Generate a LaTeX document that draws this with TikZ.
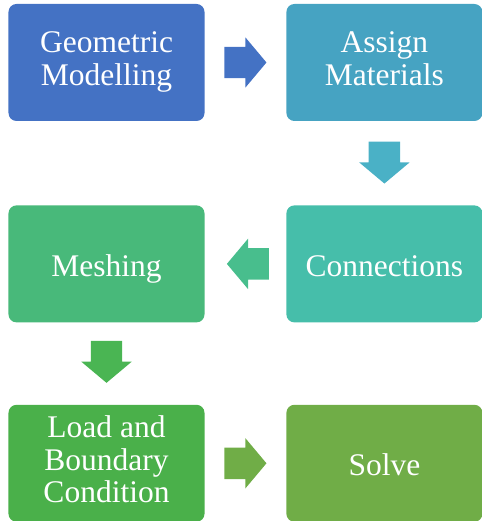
\documentclass[tikz,border=0pt]{standalone}
\usepackage{fontspec}
\setmainfont{Liberation Serif}
\usetikzlibrary{shapes.arrows, calc, positioning}
\definecolor{fsBlue}{HTML}{4472C4}
\definecolor{fsSky}{HTML}{46A3C2}
\definecolor{fsSkyArrow}{HTML}{4AB1C6}
\definecolor{fsTeal}{HTML}{46BEAA}
\definecolor{fsTealArrow}{HTML}{48BE8D}
\definecolor{fsMint}{HTML}{48B97A}
\definecolor{fsMintArrow}{HTML}{4AB553}
\definecolor{fsGreen}{HTML}{4AB04A}
\definecolor{fsOlive}{HTML}{70AD47}
\tikzset{
  % process step
  stepbox/.style={
    rectangle,
    rounded corners=8bp,
    minimum width=196bp,
    minimum height=117bp,
    text=white,
    align=center,
    font=\fontsize{31.5bp}{32.5bp}\selectfont,
    execute at begin node={\rule{0pt}{33bp}},
    execute at end node={\rule[-8bp]{0pt}{8bp}}
  },
  % block arrow between steps
  flowarrow/.style={
    single arrow,
    draw=none,
    anchor=tail,
    inner xsep=0pt,
    inner ysep=15.5bp,
    minimum height=42bp,
    single arrow head extend=9.5bp,
    single arrow tip angle=100
  }
}
\begin{document}
\begin{tikzpicture}[x=1bp, y=1bp]
\useasboundingbox (0,0) rectangle (482,521);

%% === Steps ===
\node[stepbox, fill=fsBlue] (geom) at (106.5,458.5) {Geometric\\Modelling};
\node[stepbox, fill=fsSky, right=81.5bp of geom] (assign) {Assign\\Materials};
\node[stepbox, fill=fsTeal, below=84bp of assign] (conn) {Connections};
\node[stepbox, fill=fsMint, left=81.5bp of conn] (mesh) {Meshing};
\node[stepbox, fill=fsGreen, below=82bp of mesh] (load) {Load and\\Boundary\\Condition};
\node[stepbox, fill=fsOlive, right=81.5bp of load] (solve) {Solve};

%% === Arrows ===
\node[flowarrow, fill=fsBlue] (a1) at ($(geom.east)!0.24!(assign.west)$) {};
\node[flowarrow, fill=fsSkyArrow, rotate=-90] (a2) at ($(assign.south)!0.24!(conn.north)$) {};
\node[flowarrow, fill=fsTealArrow, rotate=180] (a3) at ($(conn.west)!0.21!(mesh.east)$) {};
\node[flowarrow, fill=fsMintArrow, rotate=-90] (a4) at ($(mesh.south)!0.22!(load.north)$) {};
\node[flowarrow, fill=fsOlive] (a5) at ($(load.east)!0.24!(solve.west)$) {};

\end{tikzpicture}
\end{document}
